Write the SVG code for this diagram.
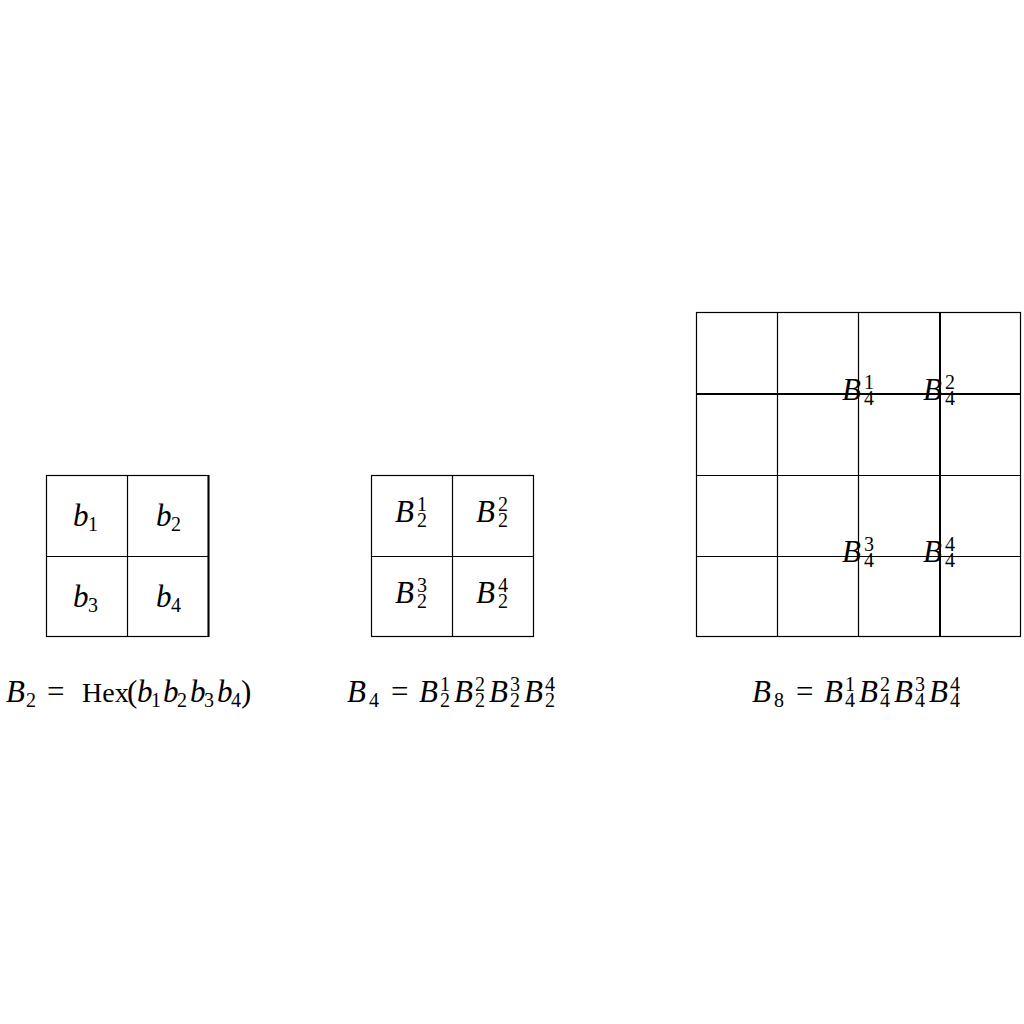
<svg xmlns="http://www.w3.org/2000/svg" width="1024" height="1024" viewBox="0 0 1024 1024">
<style>
.g { fill: none; stroke: #000; stroke-width: 1.2; }
.t { stroke-width: 2; }
text { font-family: "Liberation Serif", "Times New Roman", serif; font-size: 31px; fill: #000; }
.i { font-style: italic; }
.s { font-size: 20px; font-style: normal; }
</style>
<rect width="1024" height="1024" fill="#fff"/>
<g id="grid-b2">
  <rect class="g" x="46.5" y="475.5" width="162" height="161"/>
  <line class="g" x1="127.5" y1="475.5" x2="127.5" y2="636.5"/>
  <line class="g" x1="46.5" y1="556.5" x2="208.5" y2="556.5"/>
  <line class="g t" x1="208.5" y1="475" x2="208.5" y2="637"/>
  <text><tspan class="i" x="73" y="526">b</tspan><tspan class="s" x="88" y="531">1</tspan></text>
  <text><tspan class="i" x="156" y="526">b</tspan><tspan class="s" x="171" y="531">2</tspan></text>
  <text><tspan class="i" x="73" y="607">b</tspan><tspan class="s" x="88" y="612">3</tspan></text>
  <text><tspan class="i" x="156" y="607">b</tspan><tspan class="s" x="171" y="612">4</tspan></text>
</g>
<g id="grid-b4">
  <rect class="g" x="371.5" y="475.5" width="162" height="161"/>
  <line class="g" x1="452.5" y1="475.5" x2="452.5" y2="636.5"/>
  <line class="g" x1="371.5" y1="556.5" x2="533.5" y2="556.5"/>
  <text><tspan class="i" x="395" y="522">B</tspan><tspan class="s" x="417" y="511">1</tspan><tspan class="s" x="417" y="527">2</tspan></text>
  <text><tspan class="i" x="476" y="522">B</tspan><tspan class="s" x="498" y="511">2</tspan><tspan class="s" x="498" y="527">2</tspan></text>
  <text><tspan class="i" x="395" y="603">B</tspan><tspan class="s" x="417" y="592">3</tspan><tspan class="s" x="417" y="608">2</tspan></text>
  <text><tspan class="i" x="476" y="603">B</tspan><tspan class="s" x="498" y="592">4</tspan><tspan class="s" x="498" y="608">2</tspan></text>
</g>
<g id="grid-b8">
  <rect class="g" x="696.5" y="312.5" width="324" height="324"/>
  <line class="g" x1="777.5" y1="312.5" x2="777.5" y2="636.5"/>
  <line class="g" x1="858.5" y1="312.5" x2="858.5" y2="636.5"/>
  <line class="g t" x1="940" y1="312.5" x2="940" y2="636.5"/>
  <line class="g t" x1="696.5" y1="394" x2="1020.5" y2="394"/>
  <line class="g" x1="696.5" y1="475.5" x2="1020.5" y2="475.5"/>
  <line class="g" x1="696.5" y1="556.5" x2="1020.5" y2="556.5"/>
  <text><tspan class="i" x="842" y="400">B</tspan><tspan class="s" x="864" y="389">1</tspan><tspan class="s" x="864" y="405">4</tspan></text>
  <text><tspan class="i" x="923" y="400">B</tspan><tspan class="s" x="945" y="389">2</tspan><tspan class="s" x="945" y="405">4</tspan></text>
  <text><tspan class="i" x="842" y="562">B</tspan><tspan class="s" x="864" y="551">3</tspan><tspan class="s" x="864" y="567">4</tspan></text>
  <text><tspan class="i" x="923" y="562">B</tspan><tspan class="s" x="945" y="551">4</tspan><tspan class="s" x="945" y="567">4</tspan></text>
</g>
<g id="formula-b2">
  <text><tspan class="i" x="6" y="702">B</tspan><tspan class="s" x="26" y="707">2</tspan><tspan x="47" y="702">=</tspan><tspan x="82" y="702" font-size="28">Hex</tspan><tspan x="127" y="702">(</tspan><tspan class="i" x="137" y="702">b</tspan><tspan class="s" x="151" y="707">1</tspan><tspan class="i" x="163" y="702">b</tspan><tspan class="s" x="177" y="707">2</tspan><tspan class="i" x="190" y="702">b</tspan><tspan class="s" x="204" y="707">3</tspan><tspan class="i" x="217" y="702">b</tspan><tspan class="s" x="231" y="707">4</tspan><tspan x="241" y="702">)</tspan></text>
</g>
<g id="formula-b4">
  <text><tspan class="i" x="347" y="702">B</tspan><tspan class="s" x="369" y="707">4</tspan><tspan x="391" y="702">=</tspan><tspan class="i" x="419" y="702">B</tspan><tspan class="s" x="440" y="691">1</tspan><tspan class="s" x="440" y="707">2</tspan><tspan class="i" x="454" y="702">B</tspan><tspan class="s" x="475" y="691">2</tspan><tspan class="s" x="475" y="707">2</tspan><tspan class="i" x="489" y="702">B</tspan><tspan class="s" x="510" y="691">3</tspan><tspan class="s" x="510" y="707">2</tspan><tspan class="i" x="524" y="702">B</tspan><tspan class="s" x="545" y="691">4</tspan><tspan class="s" x="545" y="707">2</tspan></text>
</g>
<g id="formula-b8">
  <text><tspan class="i" x="752" y="702">B</tspan><tspan class="s" x="774" y="707">8</tspan><tspan x="796" y="702">=</tspan><tspan class="i" x="824" y="702">B</tspan><tspan class="s" x="845" y="691">1</tspan><tspan class="s" x="845" y="707">4</tspan><tspan class="i" x="859" y="702">B</tspan><tspan class="s" x="880" y="691">2</tspan><tspan class="s" x="880" y="707">4</tspan><tspan class="i" x="894" y="702">B</tspan><tspan class="s" x="915" y="691">3</tspan><tspan class="s" x="915" y="707">4</tspan><tspan class="i" x="929" y="702">B</tspan><tspan class="s" x="950" y="691">4</tspan><tspan class="s" x="950" y="707">4</tspan></text>
</g>
</svg>
